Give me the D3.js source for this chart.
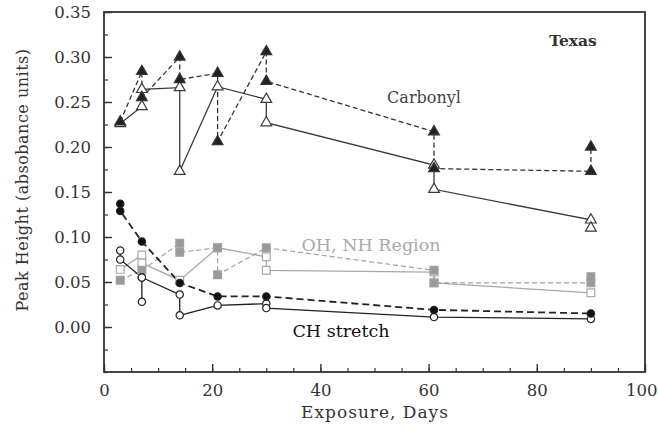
<!DOCTYPE html>
<html>
<head>
<meta charset="utf-8">
<script src="https://cdn.jsdelivr.net/npm/d3@7"></script>
<style>
  html, body { margin: 0; padding: 0; background: #fff; }
  svg { display: block; }
</style>
</head>
<body>
<svg id="chart" width="658" height="431"></svg>
<script>
// Exposure days and peak heights, one pair of arrays per traced series.
// Repeated days are replicate readings joined by a vertical segment.
const carbonylFilledDays   = [3, 7, 7, 14, 14, 21, 21, 30, 30, 61, 61, 90, 90];
const carbonylFilledValues = [0.228, 0.284, 0.255, 0.300, 0.275, 0.282, 0.206, 0.306, 0.273, 0.217, 0.176, 0.173, 0.200];

const carbonylOpenDays   = [3, 7, 7, 14, 14, 21, 30, 30, 61, 61, 90, 90];
const carbonylOpenValues = [0.226, 0.245, 0.264, 0.266, 0.173, 0.267, 0.253, 0.227, 0.180, 0.153, 0.119, 0.110];

const ohFilledDays   = [3, 7, 14, 14, 21, 21, 30, 61, 61, 90, 90];
const ohFilledValues = [0.052, 0.063, 0.093, 0.083, 0.088, 0.058, 0.088, 0.063, 0.049, 0.049, 0.056];

const ohOpenDays   = [3, 7, 7, 14, 21, 30, 30, 61, 61, 90];
const ohOpenValues = [0.064, 0.080, 0.071, 0.052, 0.088, 0.078, 0.063, 0.061, 0.049, 0.038];

const chFilledDays   = [3, 3, 7, 14, 21, 30, 61, 90];
const chFilledValues = [0.137, 0.129, 0.095, 0.049, 0.034, 0.034, 0.019, 0.015];

const chOpenDays   = [3, 3, 7, 7, 7, 14, 14, 21, 30, 30, 61, 90];
const chOpenValues = [0.085, 0.075, 0.055, 0.028, 0.055, 0.036, 0.013, 0.024, 0.026, 0.021, 0.011, 0.009];

const yTickValues = [0.00, 0.05, 0.10, 0.15, 0.20, 0.25, 0.30, 0.35];
const xTickValues = [0, 20, 40, 60, 80, 100];

const serif = "'DejaVu Serif', 'Liberation Serif', serif";

const svg = d3.select("#chart");
const plotLeft = 104, plotRight = 645, plotTop = 12, plotBottom = 372;

const x = d3.scaleLinear().domain([0, 100]).range([plotLeft, plotRight]);
const y = d3.scaleLinear().domain([-0.05, 0.35]).range([plotBottom, plotTop]);

// minor ticks (inward)
svg.append("g")
  .attr("transform", `translate(0,${plotBottom})`)
  .call(d3.axisBottom(x).tickValues(d3.range(0, 101, 5)).tickSize(-4).tickFormat(""))
  .call(g => g.select(".domain").remove())
  .call(g => g.selectAll("line").attr("stroke", "#333").attr("stroke-width", 1.2));
svg.append("g")
  .attr("transform", `translate(${plotLeft},0)`)
  .call(d3.axisLeft(y).tickValues(d3.range(-0.05, 0.351, 0.025)).tickSize(-4).tickFormat(""))
  .call(g => g.select(".domain").remove())
  .call(g => g.selectAll("line").attr("stroke", "#333").attr("stroke-width", 1.2));

// major ticks with labels
svg.append("g")
  .attr("transform", `translate(0,${plotBottom})`)
  .call(d3.axisBottom(x).tickValues(xTickValues).tickSize(-8).tickPadding(12).tickFormat(d3.format("d")))
  .call(g => g.select(".domain").remove())
  .call(g => g.selectAll("line").attr("stroke", "#333").attr("stroke-width", 1.4))
  .call(g => g.selectAll("text").attr("font-family", serif).attr("font-size", 16.5).attr("fill", "#333"))
  // keep the last label inside the page edge
  .call(g => g.selectAll("text").filter(d => d === 100).attr("text-anchor", "end").attr("dx", 12));
svg.append("g")
  .attr("transform", `translate(${plotLeft},0)`)
  .call(d3.axisLeft(y).tickValues(yTickValues).tickSize(-8).tickPadding(13).tickFormat(d3.format(".2f")))
  .call(g => g.select(".domain").remove())
  .call(g => g.selectAll("line").attr("stroke", "#333").attr("stroke-width", 1.4))
  .call(g => g.selectAll("text").attr("font-family", serif).attr("font-size", 16.5).attr("fill", "#333"));

// plot frame
svg.append("rect")
  .attr("x", plotLeft).attr("y", plotTop)
  .attr("width", plotRight - plotLeft).attr("height", plotBottom - plotTop)
  .attr("fill", "none").attr("stroke", "#333").attr("stroke-width", 1.8);

const line = d3.line().x(d => x(d[0])).y(d => y(d[1]));

const series = [
  { days: ohOpenDays, values: ohOpenValues, shape: "square", fill: "#fff", stroke: "#a8a8a8", dash: null, width: 1.3 },
  { days: ohFilledDays, values: ohFilledValues, shape: "square", fill: "#9a9a9a", stroke: "#a0a0a0", dash: "5,3", width: 1.2 },
  { days: carbonylOpenDays, values: carbonylOpenValues, shape: "triangle", fill: "#fff", stroke: "#3a3a3a", dash: null, width: 1.3 },
  { days: carbonylFilledDays, values: carbonylFilledValues, shape: "triangle", fill: "#222", stroke: "#333", dash: "5,3", width: 1.3 },
  { days: chOpenDays, values: chOpenValues, shape: "circle", fill: "#fff", stroke: "#222", dash: null, width: 1.3 },
  { days: chFilledDays, values: chFilledValues, shape: "circle", fill: "#111", stroke: "#222", dash: "7,4", width: 1.8 }
];

const symbols = {
  triangle: d3.symbol().type(d3.symbolTriangle).size(50),
  square: d3.symbol().type(d3.symbolSquare).size(60),
  circle: d3.symbol().type(d3.symbolCircle).size(42)
};

series.forEach(s => {
  const pts = s.days.map((d, i) => [d, s.values[i]]);
  svg.append("path")
    .attr("d", line(pts))
    .attr("fill", "none")
    .attr("stroke", s.stroke)
    .attr("stroke-width", s.width)
    .attr("stroke-dasharray", s.dash);
});

series.forEach(s => {
  const pts = s.days.map((d, i) => [d, s.values[i]]);
  svg.append("g").selectAll("path")
    .data(pts)
    .join("path")
    .attr("d", symbols[s.shape])
    .attr("transform", d => `translate(${x(d[0])},${y(d[1])})`)
    .attr("fill", s.fill)
    .attr("stroke", s.stroke)
    .attr("stroke-width", 1.2);
});

// annotations
svg.append("text").attr("x", 573).attr("y", 46).attr("text-anchor", "middle")
  .attr("font-family", serif).attr("font-size", 15.5).attr("font-weight", "bold").attr("fill", "#333")
  .text("Texas");
svg.append("text").attr("x", 424).attr("y", 103).attr("text-anchor", "middle")
  .attr("font-family", serif).attr("font-size", 16).attr("fill", "#444")
  .text("Carbonyl");
svg.append("text").attr("x", 371).attr("y", 251).attr("text-anchor", "middle")
  .attr("font-family", serif).attr("font-size", 17.5).attr("fill", "#aaa")
  .text("OH, NH Region");
svg.append("text").attr("x", 341).attr("y", 337).attr("text-anchor", "middle")
  .attr("font-family", serif).attr("font-size", 17.5).attr("fill", "#111")
  .text("CH stretch");

// axis titles
svg.append("text").attr("x", 375).attr("y", 418)
  .attr("text-anchor", "middle").attr("letter-spacing", 1)
  .attr("font-family", serif).attr("font-size", 17).attr("fill", "#333")
  .text("Exposure, Days");
svg.append("text")
  .attr("transform", `translate(28,180) rotate(-90)`)
  .attr("text-anchor", "middle").attr("letter-spacing", 0.5)
  .attr("font-family", serif).attr("font-size", 16).attr("fill", "#333")
  .text("Peak Height (absobance units)");
</script>
</body>
</html>
